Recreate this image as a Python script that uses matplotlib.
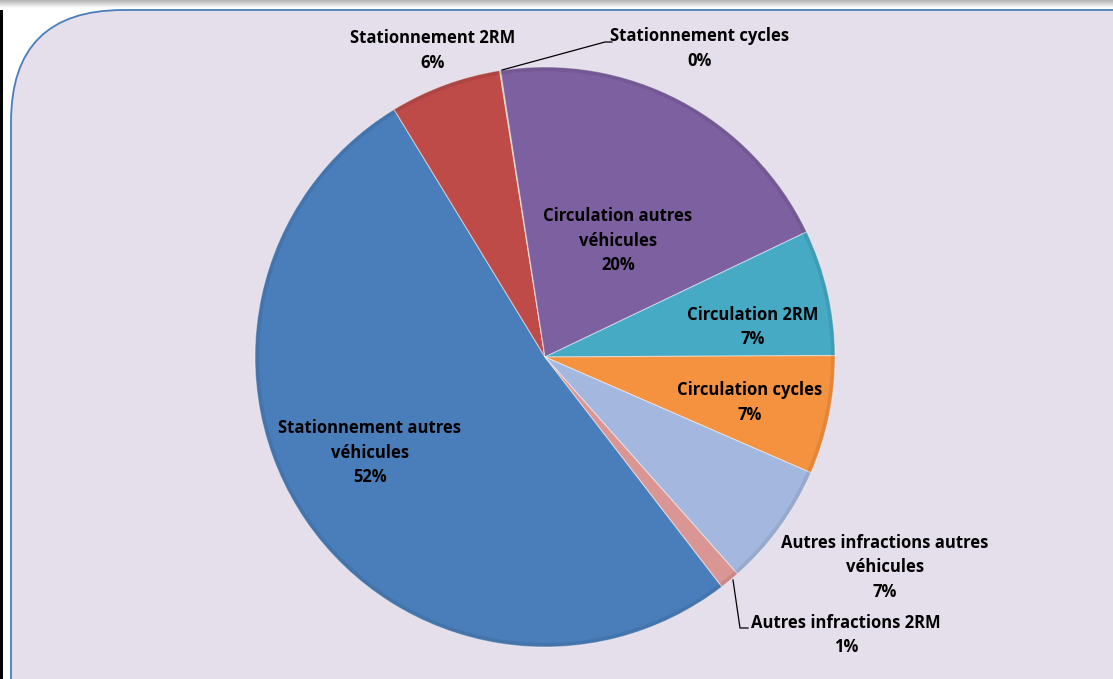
import matplotlib
matplotlib.use("Agg")
import matplotlib.pyplot as plt
import numpy as np
from matplotlib.patches import FancyBboxPatch, Rectangle

categories = [
    "Stationnement autres\nvéhicules",
    "Stationnement 2RM",
    "Stationnement cycles",
    "Circulation autres\nvéhicules",
    "Circulation 2RM",
    "Circulation cycles",
    "Autres infractions autres\nvéhicules",
    "Autres infractions 2RM",
]
values = [51.6, 6.2, 0.05, 20.3, 7.0, 6.6, 6.9, 1.1]
colors = ["#4A7EBB", "#BE4B48", "#98B954", "#7D60A0", "#46AAC5", "#F59240", "#A4B8DF", "#D99694"]

W, H = 1113, 679
fig = plt.figure(figsize=(W / 100, H / 100), dpi=100)
ax = fig.add_axes([0, 0, 1, 1])

def Y(y):
    return H - y

# background
ax.add_patch(Rectangle((0, 0), W, H, facecolor="white", edgecolor="none", zorder=0))
grad = np.linspace(0.70, 1.0, 20).reshape(-1, 1)
ax.imshow(np.dstack([grad, grad, grad]), extent=(0, W, Y(8), Y(0)), aspect="auto", zorder=0.5)
ax.add_patch(Rectangle((0, 0), 3, Y(10), facecolor="black", edgecolor="none", zorder=1))
ax.add_patch(FancyBboxPatch((11, -300), 1500, Y(10) + 300,
                            boxstyle="round,pad=0,rounding_size=112",
                            facecolor="#E5DFEC", edgecolor="#4A7EBB", linewidth=1.3, zorder=1))

cx, cy, r = 545, Y(357), 290
wedges, _ = ax.pie(values, colors=colors, startangle=-52.4, counterclock=False,
                   center=(cx, cy), radius=r,
                   wedgeprops=dict(edgecolor=(1, 1, 1, 0.45), linewidth=0.8, zorder=2))
for w in wedges:
    w.set_zorder(2)

# subtle rim shading for 3D look
theta = np.linspace(0, 2 * np.pi, 400)
ax.plot(cx + (r - 2) * np.cos(theta), cy + (r - 2) * np.sin(theta), color="black", alpha=0.08, lw=3, zorder=3)

pct = [f"{round(v):d}%" for v in values]
fs = 12
label_pos = [
    (370, 428),
    (433, 38),
    (700, 36),
    (618, 216),
    (753, 315),
    (750, 390),
    (885, 543),
    (846, 623),
]
for cat, p, (x, y) in zip(categories, pct, label_pos):
    lines = cat.split("\n") + [p]
    for i, line in enumerate(lines):
        ax.text(x, Y(y + i * 24.5), line, ha="center", va="center", fontsize=fs,
                fontweight="bold", family="Open Sans", color="black", zorder=5)

# leader lines
ax.plot([502, 605, 612], [Y(70), Y(42), Y(42)], color="black", lw=0.9, zorder=4)
ax.plot([733, 740, 748], [Y(580), Y(628), Y(628)], color="black", lw=0.9, zorder=4)

ax.set_xlim(0, W)
ax.set_ylim(0, H)
ax.set_aspect("auto")
ax.axis("off")
fig.savefig("out.png", dpi=100)
